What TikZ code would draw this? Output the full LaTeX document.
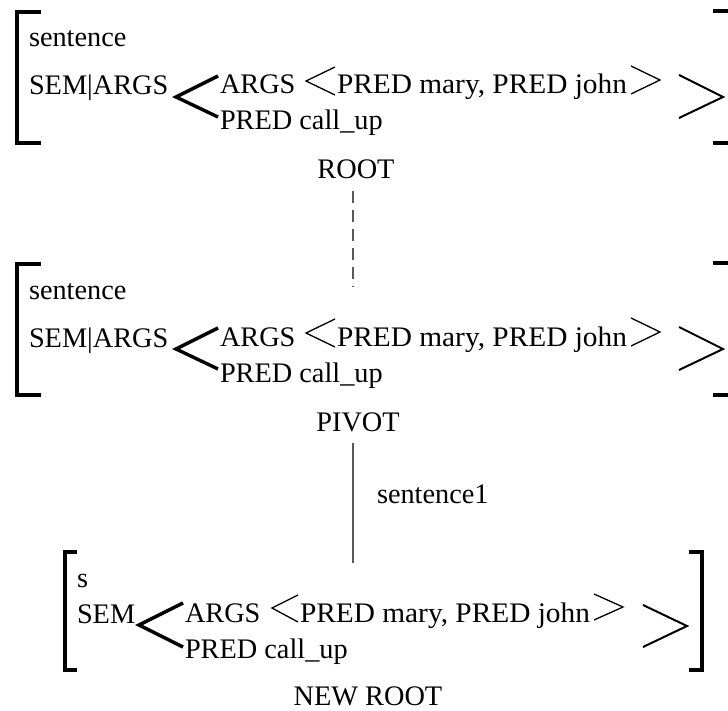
\documentclass[tikz,border=0pt]{standalone}
\usepackage{graphicx}
\usepackage{fontspec}
\setmainfont{Liberation Serif}
\newcommand{\avmlist}{\resizebox{290pt}{\height}{PRED mary, PRED john}}
\begin{document}
\begin{tikzpicture}[x=1pt,y=-1pt,
  txt/.style={inner sep=0pt,outer sep=0pt,anchor=base west,font=\fontsize{28.3}{30}\selectfont},
  lbl/.style={inner sep=0pt,outer sep=0pt,anchor=base,font=\fontsize{28.3}{30}\selectfont},
  brk/.style={line width=4pt,line cap=butt,line join=miter},
  bigang/.style={line width=3.4pt,line join=miter},
  midang/.style={line width=2pt,line join=miter},
  smang/.style={line width=1.3pt,line join=miter},
  conn/.style={draw=black!65,line width=1.2pt},
  dashconn/.style={conn,dash pattern=on 12pt off 7pt}]
\useasboundingbox (0,0) rectangle (728,711);

% ---------- AVM 1 ----------
\draw[brk] (41,12) -- (17,12) -- (17,143) -- (41,143);
\draw[brk] (713,11) -- (728,11);
\draw[brk] (713,143) -- (728,143);
\node[txt] (s1type) at (29,47) {sentence};
\node[txt] (s1sem) at (29,95) {SEM|ARGS};
\draw[bigang] (218,76) -- (176,97) -- (218,117);
\node[txt] (s1args) at (220,94) {ARGS};
\draw[smang] (335,67) -- (306,81) -- (335,95);
\node[txt] (s1list) at (337,94) {\avmlist};
\draw[smang] (631,66) -- (660,80) -- (631,94);
\draw[midang] (679,75) -- (723,97) -- (679,118);
\node[txt] (s1pred) at (220,130) {PRED call\_up};
\node[lbl] (root) at (356,179) {ROOT};

% ---------- AVM 2 ----------
\begin{scope}[yshift=-252pt]
\draw[brk] (41,12) -- (17,12) -- (17,143) -- (41,143);
\draw[brk] (713,11) -- (728,11);
\draw[brk] (713,143) -- (728,143);
\node[txt] (s2type) at (29,47) {sentence};
\node[txt] (s2sem) at (29,95) {SEM|ARGS};
\draw[bigang] (218,76) -- (176,97) -- (218,117);
\node[txt] (s2args) at (220,94) {ARGS};
\draw[smang] (335,67) -- (306,81) -- (335,95);
\node[txt] (s2list) at (337,94) {\avmlist};
\draw[smang] (631,66) -- (660,80) -- (631,94);
\draw[midang] (679,75) -- (723,97) -- (679,118);
\node[txt] (s2pred) at (220,130) {PRED call\_up};
\node[lbl] (pivot) at (358,179) {PIVOT};
\end{scope}

% ---------- connectors ----------
\coordinate (rootbot) at (353,191);
\coordinate (s2top) at (353,287);
\draw[dashconn] (rootbot) -- (s2top);
\coordinate (pivbot) at (353,443);
\coordinate (s3top) at (353,563);
\draw[conn] (pivbot) -- (s3top);
\node[txt] (edgelbl) at (377,503) {sentence1};

% ---------- AVM 3 ----------
\draw[brk] (77,552) -- (65,552) -- (65,670) -- (77,670);
\draw[brk] (689,552) -- (702,552) -- (702,670) -- (689,670);
\node[txt] (s3type) at (77,587) {s};
\node[txt] (s3sem) at (77,623) {SEM};
\draw[bigang] (183,603) -- (139,625) -- (183,647);
\node[txt] (s3args) at (185,622) {ARGS};
\draw[smang] (298,595) -- (272,608) -- (298,622);
\node[txt] (s3list) at (300,622) {\avmlist};
\draw[smang] (594,594) -- (623,607) -- (594,620);
\draw[midang] (643,605) -- (687,626) -- (643,647);
\node[txt] (s3pred) at (185,658) {PRED call\_up};
\node[lbl] (newroot) at (368,705) {NEW ROOT};
\end{tikzpicture}
\end{document}
